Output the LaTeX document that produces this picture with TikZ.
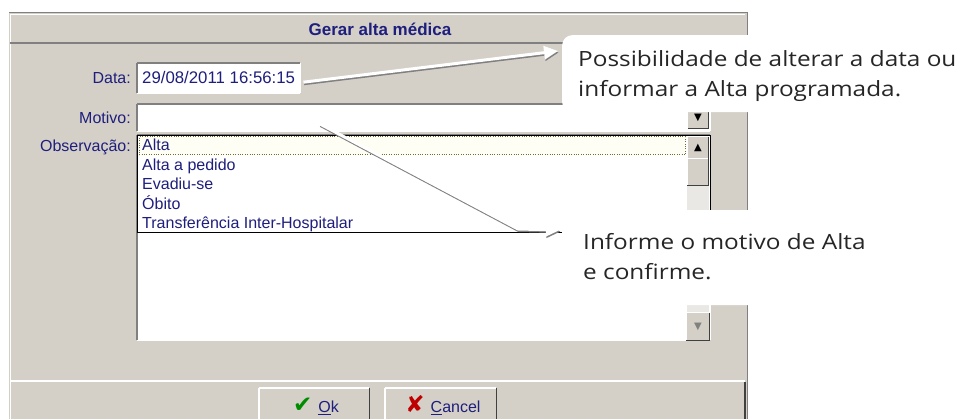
\documentclass[tikz,border=0pt]{standalone}
\usepackage{fontspec}
\usetikzlibrary{positioning,arrows.meta}
\newfontfamily\winfont{Liberation Sans}
\newfontfamily\callfont{Open Sans}[FakeStretch=1.16]
\newfontfamily\symfont{DejaVu Sans}
\definecolor{wingray}{RGB}{212,208,200}
\definecolor{winshade}{RGB}{128,128,128}
\definecolor{windark}{RGB}{64,64,64}
\definecolor{winblue}{RGB}{30,30,125}
\definecolor{calltext}{RGB}{38,38,38}
\definecolor{focusline}{RGB}{110,110,50}
\definecolor{trackgray}{RGB}{234,232,228}

\begin{document}
\begin{tikzpicture}[x=1pt,y=-1pt,
    win_txt/.style={font=\winfont\fontsize{16}{18}\selectfont, text=winblue, inner sep=0pt},
    lbl/.style={win_txt, anchor=base east},
    item/.style={win_txt, anchor=base west},
    sunken/.style={fill=white, inner sep=0pt, anchor=north west, append after command={
      (\tikzlastnode.south west) edge[winshade, line width=1.5pt] (\tikzlastnode.north west)
      (\tikzlastnode.north west) edge[winshade, line width=1.5pt] (\tikzlastnode.north east)
      (\tikzlastnode.north east) edge[white, line width=1.5pt] (\tikzlastnode.south east)
      (\tikzlastnode.south west) edge[white, line width=1.5pt] (\tikzlastnode.south east)}},
    raised/.style={fill=wingray, inner sep=0pt, append after command={
      (\tikzlastnode.south west) edge[white, line width=1.2pt] (\tikzlastnode.north west)
      (\tikzlastnode.north west) edge[white, line width=1.2pt] (\tikzlastnode.north east)
      (\tikzlastnode.north east) edge[windark, line width=1.2pt] (\tikzlastnode.south east)
      (\tikzlastnode.south west) edge[windark, line width=1.2pt] (\tikzlastnode.south east)}},
    callout/.style={fill=white, rounded corners=10pt, anchor=north west, inner sep=0pt},
    call_txt/.style={font=\callfont\fontsize{21}{30}\selectfont, text=calltext, align=left, anchor=base west, inner sep=0pt},
    pointer/.style={draw=white, line width=3pt, -{Triangle[length=14pt,width=13pt]},
      preaction={draw=black!50, line width=3pt, transform canvas={shift={(0.6pt,-1.5pt)}}}}]
  \clip (0,0) rectangle (961,419);
  \fill[white] (0,0) rectangle (961,419);

  \fill[wingray] (9,12) rectangle (748,419);
  \draw[winshade, line width=1pt] (9,12.5) -- (748,12.5) (747.5,12) -- (747.5,419);
  \draw[white, line width=1pt] (10.5,419) -- (10.5,14.5) -- (745,14.5);
  \draw[winshade, line width=2pt] (10,43) -- (746,43);
  \node[font=\winfont\bfseries\fontsize{17}{19}\selectfont, text=winblue, inner sep=0pt] (title) at (380,29) {Gerar alta médica};

  \node[lbl] (data_lbl) at (131,84) {Data:};
  \node[sunken, minimum width=163pt, minimum height=30pt] (data_box) at (137,63) {};
  \node[item, font=\winfont\fontsize{16.8}{18}\selectfont] (data_val) at (142,84) {29/08/2011 16:56:15};

  \node[lbl] (motivo_lbl) at (131,124) {Motivo:};
  \node[sunken, minimum width=573pt, minimum height=27pt] (motivo_box) at (137,104) {};
  \node[raised, minimum width=20pt, minimum height=22pt] (motivo_btn) at (698,117.5) {\symfont\fontsize{10}{10}\selectfont ▼};

  \node[lbl] (obs_lbl) at (131,152) {Observação:};
  \node[sunken, minimum width=573pt, minimum height=205pt] (obs_box) at (137,135) {};
  \fill[trackgray] (687,232) rectangle (709,313);
  \node[raised, minimum width=23pt, minimum height=27pt, text=winshade] (obs_btn) at (698,326.5) {\symfont\fontsize{10}{10}\selectfont ▼};

  \node[fill=white, draw=black, line width=1pt, anchor=north west, minimum width=573pt, minimum height=97pt, inner sep=0pt] (list_box) at (137,135) {};
  \node[draw=focusline, dotted, fill=yellow!4, anchor=north west, minimum width=546pt, minimum height=18pt, inner sep=0pt] (focus_box) at (139,136.5) {};
  \node[item] (item_a) at (142,151) {Alta};
  \node[item] (item_b) at (142,170.5) {Alta a pedido};
  \node[item] (item_c) at (142,190) {Evadiu-se};
  \node[item] (item_d) at (142,209.5) {Óbito};
  \node[item] (item_e) at (142,229) {Transferência Inter-Hospitalar};
  \fill[trackgray] (687,186) rectangle (709,232);
  \node[raised, minimum width=21pt, minimum height=21pt] (list_up) at (698,147.5) {\symfont\fontsize{10}{10}\selectfont ▲};
  \node[raised, minimum width=21pt, minimum height=27pt] (list_thumb) at (698,172) {};

  \draw[white, line width=1.2pt] (10,381) -- (745,381);
  \draw[windark, line width=1.5pt] (745,382) -- (745,419);
  \node[raised, anchor=north west, minimum width=110pt, minimum height=40pt] (ok_btn) at (259,388) {};
  \node[win_txt, anchor=base] (ok_txt) at (316,413) {\textcolor{green!55!black}{\symfont\fontsize{23}{23}\selectfont ✔}\hspace{6pt}\underline{O}k};
  \node[raised, anchor=north west, minimum width=111pt, minimum height=40pt] (cancel_btn) at (385,388) {};
  \node[win_txt, anchor=base] (cancel_txt) at (443,413) {\textcolor{red!75!black}{\symfont\fontsize{23}{23}\selectfont ✘}\hspace{6pt}\underline{C}ancel};

  \node[callout, minimum width=420pt, minimum height=77pt] (call_one) at (562,35) {};
  \node[call_txt] (call_one_txt) at (578,97) {Possibilidade de alterar a data ou\\informar a Alta programada.};
  \node[callout, minimum width=420pt, minimum height=95pt] (call_two) at (562,210) {};
  \node[call_txt] (call_two_txt) at (583,280) {Informe o motivo de Alta\\e confirme.};

  \coordinate (tip_one) at (558,51);
  \coordinate (motivo_pt) at (320,124);
  \coordinate (bend_two) at (518,229);
  \coordinate (tip_two) at (560,230);
  \draw[pointer] ([xshift=3pt,yshift=-4pt]data_box.east) -- (tip_one);
  \draw[pointer] (motivo_pt) -- (bend_two) -- (tip_two);
\end{tikzpicture}
\end{document}
